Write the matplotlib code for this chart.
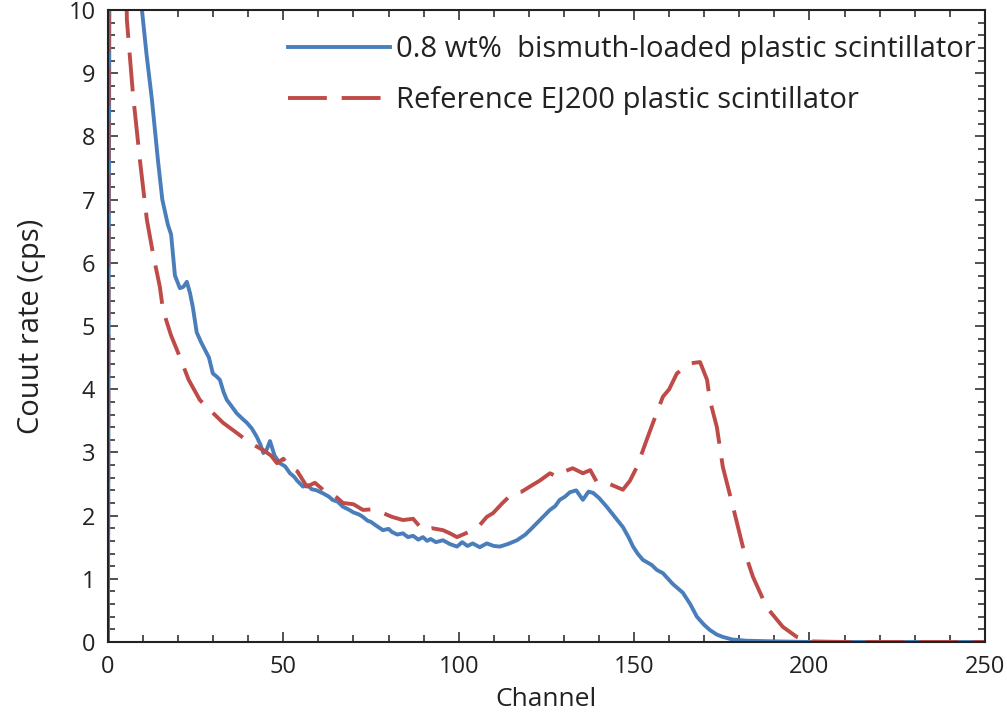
import matplotlib
matplotlib.use("Agg")
import matplotlib.pyplot as plt
from matplotlib.ticker import MultipleLocator

plt.rcParams['font.family'] = ['Open Sans', 'DejaVu Sans']

# 0.8 wt% bismuth-loaded plastic scintillator
bi_ch = [0, 1, 3, 5, 7, 9.7, 11, 12.5, 14.3, 15.5, 17.1, 18, 19.1, 20.5, 21.5, 22.5, 23.4, 24.2,
         25.3, 26.5, 27.7, 28.8, 29.9, 31, 31.9, 33, 33.9, 35, 36.7, 38, 39.6, 41, 42.4, 43.5,
         44.3, 45.3, 46.2, 47.5, 49.0, 50.5, 51.9, 53, 54, 55.6, 57, 58, 59.5, 61.4, 63, 64,
         65.5, 67, 68.5, 70, 71.5, 72.7, 74, 75, 76.5, 78.4, 80, 81, 82.5, 84.1, 85.5, 87,
         88.5, 89.8, 91, 92, 93.5, 95.5, 97.5, 99.5, 101, 102.5, 104, 106, 108, 110, 111.7,
         114, 116.6, 119, 121.2, 123.5, 126, 127.5, 128.8, 130.3, 131.7, 133.5, 135.4, 137,
         138.3, 140, 142.2, 144.5, 146.8, 148.5, 149.7, 151, 152.5, 155, 156.5, 158.2, 161,
         163.9, 166, 167.9, 170, 171.6, 173.5, 175.3, 178, 182, 190, 200, 210, 220, 230, 240,
         250]
bi_rate = [0, 25, 18, 14, 11.5, 10, 9.3, 8.6, 7.6, 7.0, 6.6, 6.45, 5.8, 5.6, 5.62, 5.7, 5.52, 5.3,
           4.9, 4.75, 4.62, 4.5, 4.25, 4.2, 4.15, 3.95, 3.83, 3.75, 3.62, 3.55, 3.47, 3.38, 3.25,
           3.12, 2.99, 3.05, 3.18, 2.95, 2.83, 2.78, 2.67, 2.62, 2.55, 2.46, 2.48, 2.42, 2.4,
           2.35, 2.3, 2.25, 2.22, 2.14, 2.1, 2.05, 2.02, 1.98, 1.92, 1.9, 1.84, 1.77, 1.79,
           1.74, 1.7, 1.72, 1.66, 1.68, 1.62, 1.66, 1.6, 1.63, 1.58, 1.61, 1.55, 1.51, 1.58,
           1.52, 1.56, 1.5, 1.56, 1.52, 1.51, 1.55, 1.61, 1.7, 1.82, 1.95, 2.09, 2.15, 2.25,
           2.3, 2.37, 2.4, 2.25, 2.38, 2.36, 2.28, 2.14, 1.98, 1.82, 1.65, 1.51, 1.4, 1.30,
           1.22, 1.14, 1.09, 0.92, 0.78, 0.6, 0.40, 0.27, 0.19, 0.12, 0.08, 0.04, 0.02, 0.01,
           0, 0, 0, 0, 0, 0]

# Reference EJ200 plastic scintillator
ej_ch = [0, 1, 2.5, 4, 5.4, 7.1, 9.1, 11.1, 13, 14.8, 15.7, 18, 20.5, 23, 26.2, 29.1, 32.8, 36.7,
         40.5, 44.2, 46.5, 48.2, 50, 51.9, 54, 56.7, 59, 61.3, 64, 67, 70, 72.7, 75.5, 78.4,
         81, 84.1, 87, 89.8, 92.5, 95.5, 97.5, 99.5, 102, 104, 106, 108, 109.8, 112.5, 115.5,
         118, 120.3, 123, 126, 128, 129.7, 132.5, 135.4, 137.5, 139.4, 143, 146.8, 148.8,
         150.8, 153.6, 155.4, 158.2, 160, 162.2, 165.9, 168.8, 170.8, 171.6, 173.6, 175.3,
         178.2, 181, 183.9, 187.8, 192.4, 196.4, 200, 210, 220, 230, 240, 250]
ej_rate = [0, 40, 30, 14, 9.84, 8.69, 7.63, 6.68, 6.1, 5.62, 5.25, 4.85, 4.51, 4.15, 3.83, 3.67,
           3.47, 3.31, 3.15, 3.04, 2.95, 2.83, 2.9, 2.77, 2.7, 2.46, 2.52, 2.41, 2.35, 2.2,
           2.18, 2.09, 2.1, 2.04, 1.98, 1.93, 1.95, 1.77, 1.8, 1.77, 1.72, 1.66, 1.72, 1.77,
           1.85, 1.98, 2.04, 2.2, 2.36, 2.38, 2.46, 2.55, 2.67, 2.62, 2.69, 2.75, 2.67, 2.72,
           2.53, 2.5, 2.41, 2.55, 2.77, 3.2, 3.47, 3.88, 4.0, 4.25, 4.41, 4.43, 4.15, 3.83,
           3.40, 2.77, 2.14, 1.51, 1.03, 0.55, 0.24, 0.08, 0.01, 0, 0, 0, 0, 0]

blue = '#4a7ebb'
red = '#be4b48'

fig = plt.figure(figsize=(10.07, 7.22), dpi=100)
ax = fig.add_axes([0.1072, 0.1108, 0.8708, 0.8752])

ax.plot(bi_ch, bi_rate, '-', color=blue, lw=2.8,
        label='0.8 wt%  bismuth-loaded plastic scintillator')
ax.plot(ej_ch, ej_rate, '-', color=red, lw=2.8, dashes=(10, 3.8),
        label='Reference EJ200 plastic scintillator')

ax.set_xlim(0, 250)
ax.set_ylim(0, 10)
ax.xaxis.set_major_locator(MultipleLocator(50))
ax.xaxis.set_minor_locator(MultipleLocator(10))
ax.yaxis.set_major_locator(MultipleLocator(1))
ax.yaxis.set_minor_locator(MultipleLocator(0.2))
ax.tick_params(which='both', direction='in', top=True, right=True, labelsize=17,
               color='#333333', labelcolor='#222222')
ax.tick_params(which='major', length=7, width=1.2)
ax.tick_params(which='minor', length=5, width=1.2)
ax.tick_params(axis='x', pad=9)
ax.tick_params(axis='y', pad=9)
for s in ax.spines.values():
    s.set_linewidth(1.5)
    s.set_color('#222222')

ax.set_xlabel('Channel', fontsize=19, labelpad=6, color='#222222')
ax.set_ylabel('Couut rate (cps)', fontsize=21, labelpad=16, color='#222222')

ax.legend(loc='upper right', frameon=False, fontsize=21, handlelength=3.5,
          handletextpad=0.2, labelspacing=0.75, borderaxespad=0.45,
          bbox_to_anchor=(1.018, 1.0), labelcolor='#222222')

fig.savefig('out.png', dpi=100)
